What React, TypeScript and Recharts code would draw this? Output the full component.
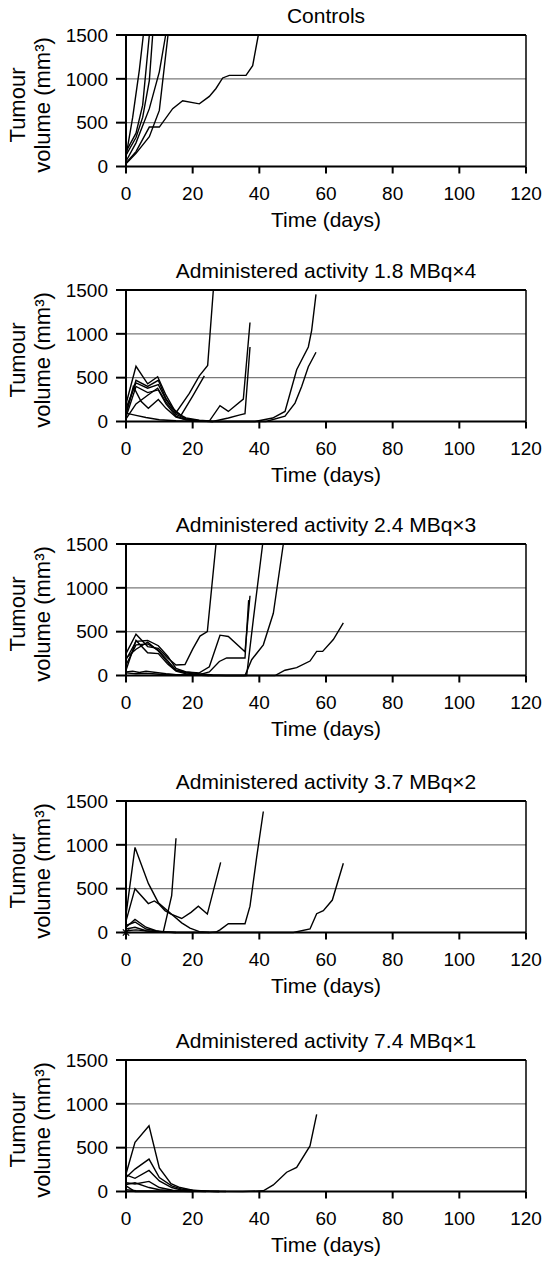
import React from 'react';
import { LineChart, Line, XAxis, YAxis, ReferenceLine } from 'recharts';

// each series is a list of [day, tumour volume mm3]
const controls = [
  [[0, 115], [2, 560], [4, 1100], [5.2, 1500]],
  [[0, 170], [3, 380], [5, 700], [7, 1500]],
  [[0, 130], [3, 330], [5, 560], [7, 980], [8, 1500]],
  [[0, 60], [3, 270], [7, 660], [10, 1080], [11.9, 1500]],
  [[0, 30], [3, 150], [7, 340], [10, 640], [12.6, 1500]],
  [[0, 40], [3, 170], [7, 450], [10, 450], [14, 660], [17, 750], [22, 715], [25, 800], [27, 890], [29, 1010], [31, 1040], [36, 1040], [38, 1150], [39.7, 1500]],
];

const dose18x4 = [
  [[0, 200], [3, 630], [6.5, 430], [9.5, 510], [12, 300], [15, 100], [19, 320], [22, 520], [24.5, 640], [26.2, 1500]],
  [[0, 100], [3, 470], [6.5, 400], [9.7, 470], [12, 260], [14, 150], [16.5, 70], [20, 290], [23.5, 520]],
  [[0, 150], [3, 440], [6.5, 380], [9.7, 420], [12, 250], [15, 100], [18, 40], [22, 15], [25, 5], [28.2, 180], [30.7, 115], [35.2, 255], [37.2, 1130]],
  [[0, 50], [3, 400], [6.5, 330], [9.7, 360], [12, 200], [15, 60], [18, 20], [22, 5], [26, 0], [30.7, 40], [34.2, 76], [35.7, 90], [37.2, 850]],
  [[0, 80], [2.2, 400], [4.5, 230], [6.7, 150], [9.7, 250], [12, 150], [15, 50], [18, 20], [22, 5], [26, 0], [38.7, 0], [44, 40], [47.7, 115], [51.2, 590], [54.7, 850], [55.7, 1040], [57, 1450]],
  [[0, 30], [3, 200], [6.5, 300], [9.5, 380], [12, 220], [15, 80], [18, 30], [22, 10], [26, 0], [42, 0], [47.7, 60], [50.7, 210], [52.7, 400], [54.7, 625], [57, 790]],
  [[0, 95], [3, 70], [6, 45], [10, 20], [15, 8], [20, 2], [26, 0]],
];

const dose24x3 = [
  [[0, 250], [3, 470], [6.5, 330], [9.7, 310], [12.5, 200], [15, 120], [17.7, 125], [20, 300], [22.2, 450], [24.4, 500], [27, 1500]],
  [[0, 180], [3, 390], [6.5, 400], [9.7, 340], [12.5, 220], [15, 80], [18, 40], [22, 30], [25, 100], [28.2, 460], [30.7, 445], [35.7, 270], [37.2, 910]],
  [[0, 120], [3, 350], [6.5, 360], [9.7, 290], [12.5, 170], [15, 60], [18, 30], [22, 10], [25, 40], [28, 160], [30.2, 200], [35.7, 200], [36.8, 860]],
  [[0, 60], [3, 400], [6.5, 260], [9.7, 250], [12.5, 130], [15, 50], [18, 20], [22, 5], [26, 0], [36.2, 0], [38.2, 640], [41, 1500]],
  [[0, 200], [3, 300], [6.5, 380], [9.7, 280], [12.5, 150], [15, 60], [18, 40], [22, 20], [26, 5], [30, 0], [35.7, 0], [37.7, 180], [41.2, 350], [44.2, 710], [47.2, 1500]],
  [[0, 40], [2, 50], [4, 35], [6, 50], [9, 35], [12, 20], [15, 10], [20, 5], [25, 0], [44.7, 0], [47.7, 60], [51.2, 90], [55.2, 165], [57.2, 275], [59, 275], [62.2, 410], [65.2, 600]],
  [[0, 30], [3, 20], [6, 25], [10, 15], [15, 10], [20, 5], [25, 0]],
];

const dose37x2 = [
  [[0, 200], [2.7, 970], [6.7, 560], [9.7, 340], [13, 230], [16.7, 110], [19.2, 50], [22, 10], [25, 0], [27, 5], [28.2, 30], [30.7, 100], [35.7, 100], [37.2, 300], [39.2, 860], [41.2, 1380]],
  [[0, 130], [2.7, 500], [6.7, 330], [8.5, 360], [9.7, 330], [11.7, 250], [13.5, 210], [16.7, 160], [19.5, 230], [21.7, 300], [24.4, 210], [28.4, 800]],
  [[0, 60], [2.7, 150], [6, 60], [9, 20], [11.2, 10], [13.7, 420], [15, 1075]],
  [[0, 80], [2.7, 120], [6, 40], [10, 10], [15, 0], [50.2, 0], [55.2, 40], [57.2, 215], [59.2, 250], [61.9, 370], [65.2, 790]],
  [[0, 40], [2.7, 60], [6, 20], [10, 5], [15, 0], [25, 0]],
  [[0, 20], [3, 30], [8, 10], [15, 0]],
];

const dose74x1 = [
  [[0, 200], [2.7, 560], [6.9, 750], [10, 270], [13.5, 90], [16.2, 45], [20, 15], [25, 3], [30, 0]],
  [[0, 160], [2.7, 256], [6.9, 370], [10, 160], [13.7, 65], [17, 25], [22, 5], [28, 0]],
  [[0, 190], [2.7, 150], [6.9, 240], [10, 120], [13.7, 45], [17, 15], [22, 3], [28, 0]],
  [[0, 100], [2.7, 85], [6.9, 115], [10, 45], [14, 15], [18, 5], [24, 0]],
  [[0, 80], [2.7, 100], [6.9, 45], [10, 20], [14, 5], [20, 0]],
  [[0, 65], [2.7, 0], [20, 0]],
  [[0, 20], [3, 10], [8, 5], [15, 3], [25, 1], [35, 0], [41.2, 8], [44.2, 75], [48.2, 220], [51.2, 275], [55.2, 520], [57.2, 880]],
];

const panelTitles = [
  'Controls',
  'Administered activity 1.8 MBq\u00d74',
  'Administered activity 2.4 MBq\u00d73',
  'Administered activity 3.7 MBq\u00d72',
  'Administered activity 7.4 MBq\u00d71',
];
const panelSeries = [controls, dose18x4, dose24x3, dose37x2, dose74x1];
const panelTops = [0, 255, 509, 766, 1025];
const dayTicks = [0, 20, 40, 60, 80, 100, 120];
const volumeTicks = [0, 500, 1000, 1500];

const W = 544;
const H = 236;
const M = { top: 35, right: 18, bottom: 39.5, left: 66 };
const plotLeft = M.left + 60;
const plotMid = (plotLeft + W - M.right) / 2;

const Asterisk = (props: any) => {
  const { cx, cy } = props;
  if (cx == null || cy == null) return null;
  const r = 4.5;
  return (
    <g key="star" stroke="#000" strokeWidth={1.3}>
      <line x1={cx - r} y1={cy} x2={cx + r} y2={cy} />
      <line x1={cx - r * 0.7} y1={cy - r * 0.7} x2={cx + r * 0.7} y2={cy + r * 0.7} />
      <line x1={cx - r * 0.7} y1={cy + r * 0.7} x2={cx + r * 0.7} y2={cy - r * 0.7} />
      <line x1={cx} y1={cy - r} x2={cx} y2={cy + r} />
    </g>
  );
};

function Panel({ title, series, top, star }: { title: string; series: number[][][]; top: number; star?: boolean }) {
  return (
    <div style={{ position: 'absolute', left: 0, top, width: W, height: H }}>
      <LineChart width={W} height={H} margin={M}>
        <XAxis
          type="number"
          dataKey="d"
          domain={[0, 120]}
          ticks={dayTicks}
          height={30}
          tickSize={7}
          tickMargin={13}
          stroke="#000"
          strokeWidth={2}
          tick={{ fill: '#000', fontSize: 19 }}
        />
        <YAxis
          type="number"
          dataKey="v"
          domain={[0, 1500]}
          ticks={volumeTicks}
          width={60}
          tickSize={10}
          tickMargin={8}
          stroke="#000"
          strokeWidth={2}
          tick={{ fill: '#000', fontSize: 19 }}
        />
        <ReferenceLine y={500} stroke="#7a7a7a" strokeWidth={1.2} />
        <ReferenceLine y={1000} stroke="#7a7a7a" strokeWidth={1.2} />
        <ReferenceLine y={1500} stroke="#000" strokeWidth={2} />
        <ReferenceLine x={120} stroke="#000" strokeWidth={1.5} />
        {series.map((s, i) => (
          <Line
            key={i}
            data={s.map(([d, v]) => ({ d, v }))}
            dataKey="v"
            type="linear"
            stroke="#000"
            strokeWidth={1.4}
            dot={false}
            isAnimationActive={false}
          />
        ))}
        {star && (
          <Line
            data={[{ d: 0, v: 0 }]}
            dataKey="v"
            stroke="none"
            dot={Asterisk}
            isAnimationActive={false}
          />
        )}
      </LineChart>
      <svg
        width={W}
        height={H}
        style={{ position: 'absolute', left: 0, top: 0, pointerEvents: 'none' }}
      >
        <text x={plotMid} y={M.top - 12.5} textAnchor="middle" fontSize={21} fill="#000">
          {title}
        </text>
        <text x={plotMid} y={M.top + 131.5 + 60.5} textAnchor="middle" fontSize={21} fill="#000">
          Time (days)
        </text>
        <text x={25} y={105} transform="rotate(-90 25 105)" textAnchor="middle" fontSize={22} fill="#000">
          Tumour
        </text>
        <text x={50} y={105} transform="rotate(-90 50 105)" textAnchor="middle" fontSize={22} fill="#000">
          volume (mm³)
        </text>
      </svg>
    </div>
  );
}

export default function App() {
  return (
    <div
      style={{
        position: 'absolute',
        left: 0,
        top: 0,
        width: W,
        height: 1261,
        background: '#fff',
        fontFamily: '"Liberation Sans", Arial, sans-serif',
      }}
    >
      {panelTitles.map((t, i) => (
        <Panel key={t} title={t} series={panelSeries[i]} top={panelTops[i]} star={i === 3} />
      ))}
    </div>
  );
}
